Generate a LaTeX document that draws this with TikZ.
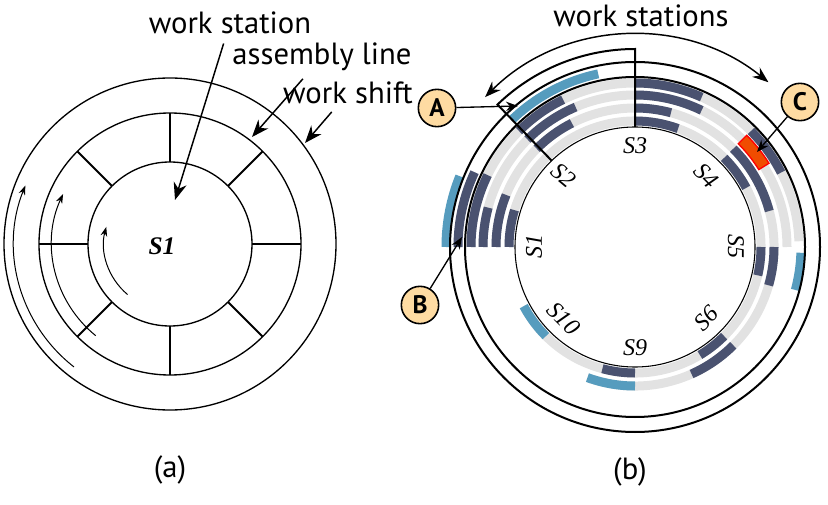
\documentclass[tikz,border=0pt]{standalone}
\usepackage{fontspec}
\newfontfamily\labelsans{PT Sans}
\newfontfamily\stnserif{Liberation Serif}
\usetikzlibrary{arrows.meta,calc}

\definecolor{trackgray}{RGB}{226,226,226}
\definecolor{barnavy}{RGB}{74,82,112}
\definecolor{shiftblue}{RGB}{86,156,190}
\definecolor{alertred}{RGB}{240,76,0}
\definecolor{calloutfill}{RGB}{254,219,162}

\tikzset{every picture/.style={line width=0.75pt}}
\tikzset{
  ring/.style={line width=1pt},
  spoke/.style={line width=1.5pt},
  heavyring/.style={line width=1.5pt},
  flow/.style={-{Stealth[length=7pt,width=5pt]}},
  pointer/.style={-{Stealth[length=13pt,width=10pt]}, line width=1.1pt, shorten <=6pt},
  tag/.style={font=\labelsans\fontsize{23}{27}\selectfont, inner sep=1pt},
  callout/.style={circle, draw, line width=1.2pt, fill=calloutfill, minimum size=28pt, inner sep=0pt, font=\labelsans\bfseries\fontsize{19}{22}\selectfont},
  smallpointer/.style={-{Stealth[length=9pt,width=7pt]}, line width=1pt},
  stnlabel/.style={font=\stnserif\itshape\fontsize{18}{20}\selectfont, inner sep=0pt}
}

\begin{document}
\begin{tikzpicture}[x=0.75pt,y=0.75pt]
\useasboundingbox (0,0) rectangle (828,504);

% ---------- panel (a) ----------
\coordinate (pa) at (170,260);
\draw[ring] (pa) circle[radius=166];
\draw[ring] (pa) circle[radius=131];
\draw[ring] (pa) circle[radius=82];
\foreach \a in {0,45,...,315}
  \draw[spoke] (pa) ++(\a:82) -- ++(\a:49);
% flow arcs
\draw[flow] (pa) ++(230:66) arc[start angle=230, end angle=165, radius=66];
\draw[flow] (pa) ++(231:118) arc[start angle=231, end angle=155, radius=118];
\draw[flow] (pa) ++(232:156) arc[start angle=232, end angle=158, radius=156];

\node[font=\stnserif\bfseries\itshape\fontsize{19}{21}\selectfont, inner sep=0pt] (s1a) at (162,258) {S1};

\node[tag] (wslabel) at (230,481) {work station};
\node[tag] (allabel) at (322,447) {assembly line};
\node[tag] (shlabel) at (348,411) {work shift};
\coordinate (wstip) at (175,304);
\coordinate (altip) at (252,367);
\coordinate (shtip) at (305,361);
\draw[pointer] (wslabel) -- (wstip);
\draw[pointer] (allabel) -- (altip);
\draw[pointer] (shlabel) -- (shtip);

\node[tag] (capa) at (170,34) {(a)};

% ---------- panel (b) ----------
\coordinate (pb) at (635,257);
% gray tracks
\foreach \r/\a/\b in {126/-152/180, 139/-110/180, 152/0/180, 164/2/180}
  \draw[trackgray, line width=6.75pt] (pb) ++(\a:\r) arc[start angle=\a, end angle=\b, radius=\r];
% bars
\foreach \r/\a/\b/\c in {
    164/66/90/barnavy, 152/64/90/barnavy, 139/75/90/barnavy, 126/70/90/barnavy,
    164/116/135/barnavy, 152/113/135/barnavy, 139/117/135/barnavy,
    177/155/180/barnavy, 164/154/180/barnavy, 152/165/180/barnavy, 139/158/180/barnavy, 126/163/180/barnavy,
    164/27/45/barnavy, 139/15/45/barnavy, 126/28/45/barnavy,
    126/-13/0/barnavy, 139/-16/0/barnavy,
    126/-59/-45/barnavy, 139/-66/-45/barnavy,
    126/-105/-90/barnavy,
    189/158/180/shiftblue, 177/102/134/shiftblue, 166/-15/-2/shiftblue,
    139/-110/-90/shiftblue, 126/-152/-135/shiftblue}
  \draw[\c, line width=6.75pt] (pb) ++(\a:\r) arc[start angle=\a, end angle=\b, radius=\r];
% red bar
\draw[red, line width=1pt, fill=alertred] (pb) ++(32:146) arc[start angle=32, end angle=45, radius=146]
  -- ++(45:12) arc[start angle=45, end angle=32, radius=158] -- cycle;

% rings
\draw[line width=0.8pt] (pb) circle[radius=120];
\draw[heavyring] (pb) circle[radius=170];
\draw[heavyring] (pb) circle[radius=185];
% selected station bracket
\draw[heavyring] (pb) ++(134:120) -- ++(134:78) arc[start angle=134, end angle=90, radius=198] -- ++(0,-78);
% stations arrow
\draw[heavyring, line width=1.1pt, {Stealth[length=12pt,width=9pt]}-{Stealth[length=12pt,width=9pt]}]
  (pb) ++(135:212) arc[start angle=135, end angle=51, radius=212];
\node[tag] (wsslabel) at (641,488) {work stations};

% station labels
\foreach \a/\n/\t in {90/3/0, 135/2/-40, 180/1/90, 45/4/-45, 0/5/-90, 225/10/-45, 270/9/0, 315/6/45}
  \node[stnlabel, rotate=\t] (st\n) at ($(pb)+(\a:101)$) {S\n};

% callouts
\node[callout] (ca) at (437,396) {A};
\node[callout] (cb) at (420,199) {B};
\node[callout] (cc) at (800,402) {C};
\coordinate (atip) at (518,398);
\coordinate (btip) at (462,267);
\coordinate (ctip) at (757,352);
\draw[smallpointer] (ca) -- (atip);
\draw[smallpointer] (cb) -- (btip);
\draw[smallpointer] (cc) -- (ctip);

\node[tag] (capb) at (630,32) {(b)};
\end{tikzpicture}
\end{document}
